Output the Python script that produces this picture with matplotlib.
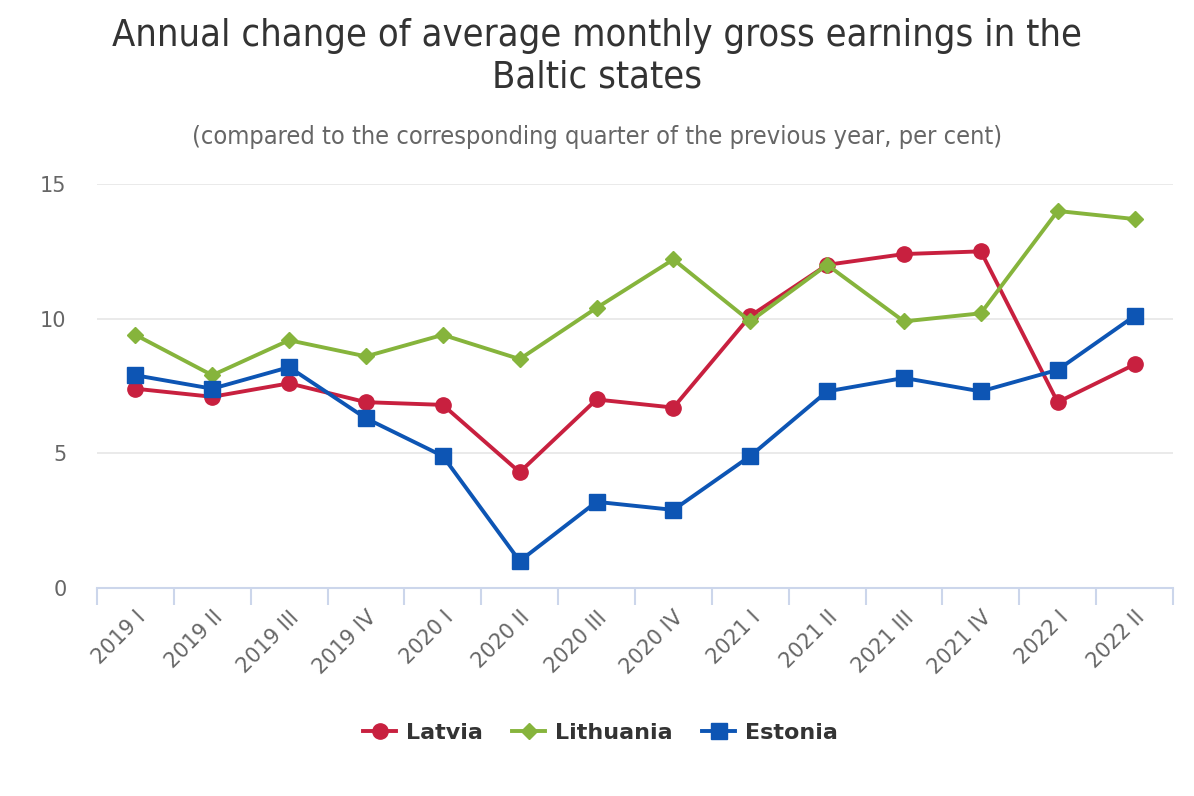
import numpy as np
import matplotlib.pyplot as plt
from matplotlib.lines import Line2D

quarters = ["2019 I", "2019 II", "2019 III", "2019 IV", "2020 I", "2020 II", "2020 III",
            "2020 IV", "2021 I", "2021 II", "2021 III", "2021 IV", "2022 I", "2022 II"]
latvia = [7.4, 7.1, 7.6, 6.9, 6.8, 4.3, 7.0, 6.7, 10.1, 12.0, 12.4, 12.5, 6.9, 8.3]
lithuania = [9.4, 7.9, 9.2, 8.6, 9.4, 8.5, 10.4, 12.2, 9.9, 12.0, 9.9, 10.2, 14.0, 13.7]
estonia = [7.9, 7.4, 8.2, 6.3, 4.9, 1.0, 3.2, 2.9, 4.9, 7.3, 7.8, 7.3, 8.1, 10.1]

plt.rcParams['font.family'] = ['DejaVu Sans']

fig = plt.figure(figsize=(11.94, 7.96), dpi=100)
ax = fig.add_axes([0.0812, 0.2613, 0.9012, 0.5075])

x = np.arange(len(quarters))
ax.plot(x, latvia, color="#c8203f", lw=2.8, marker="o", ms=11, label="Latvia", zorder=3)
ax.plot(x, lithuania, color="#86b43c", lw=2.8, marker="D", ms=8, label="Lithuania", zorder=3)
ax.plot(x, estonia, color="#0d55b4", lw=2.8, marker="s", ms=11, label="Estonia", zorder=3)

ax.set_xlim(-0.5, len(quarters) - 0.5)
ax.set_ylim(0, 15)
ax.set_yticks([0, 5, 10, 15])
ax.yaxis.grid(True, color="#e6e6e6", lw=1.2)
ax.set_axisbelow(True)
for s in ["top", "right", "left"]:
    ax.spines[s].set_visible(False)
ax.spines["bottom"].set_color("#ccd6eb")
ax.spines["bottom"].set_linewidth(1.5)
ax.tick_params(axis="y", length=0, labelsize=15, labelcolor="#666666", pad=22)

ax.set_xticks(x)
ax.set_xticklabels(quarters, rotation=45, ha="right", rotation_mode="anchor",
                   fontsize=15, color="#666666")
ax.tick_params(axis="x", which="major", length=0, pad=14)
ax.set_xticks(np.arange(-0.5, len(quarters)), minor=True)
ax.tick_params(axis="x", which="minor", length=12, width=1.5, color="#ccd6eb")

fig.text(0.5, 0.978, "Annual change of average monthly gross earnings in the\nBaltic states",
         ha="center", va="top", fontsize=27.3, color="#333333", linespacing=1.2,
         fontstretch="condensed")
fig.text(0.5, 0.828, "(compared to the corresponding quarter of the previous year, per cent)",
         ha="center", va="center", fontsize=18.2, color="#666666", fontstretch="condensed")

handles = [Line2D([], [], color="#c8203f", lw=2.8, marker="o", ms=11),
           Line2D([], [], color="#86b43c", lw=2.8, marker="D", ms=8),
           Line2D([], [], color="#0d55b4", lw=2.8, marker="s", ms=11)]
leg = fig.legend(handles, ["Latvia", "Lithuania", "Estonia"], loc="center",
                 bbox_to_anchor=(0.503, 0.079), ncol=3, frameon=False,
                 prop={"size": 16, "weight": "bold"}, handlelength=1.5,
                 columnspacing=1.3, handletextpad=0.45)
for t in leg.get_texts():
    t.set_color("#333333")

fig.savefig("out.png", dpi=100, facecolor="white")
